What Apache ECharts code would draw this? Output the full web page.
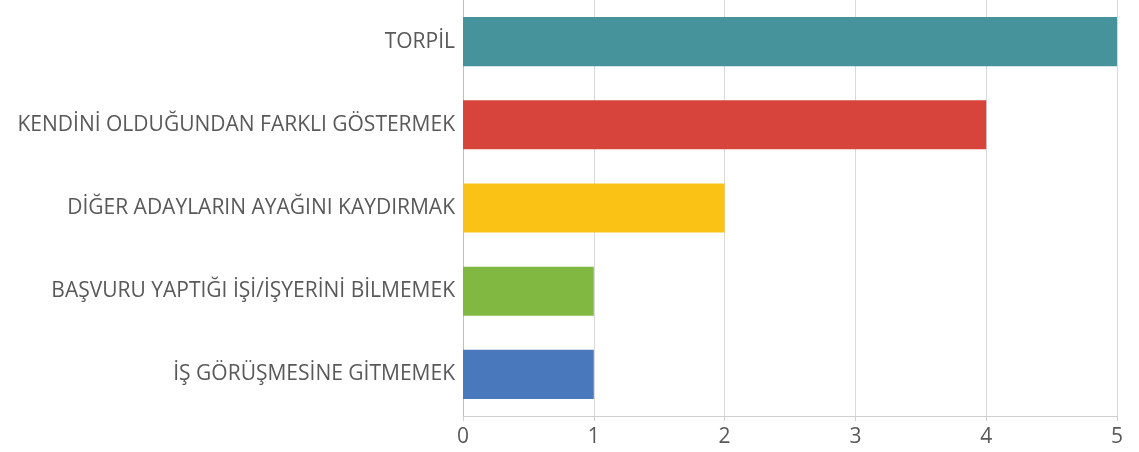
<!DOCTYPE html>
<html>
<head>
<meta charset="utf-8">
<script src="https://cdn.jsdelivr.net/npm/echarts@6/dist/echarts.min.js"></script>
<style>
html, body { margin: 0; padding: 0; background: #fff; }
#main { width: 1139px; height: 452px; }
</style>
</head>
<body>
<div id="main"></div>
<script>
// categories bottom -> top
var categories = ['İŞ GÖRÜŞMESİNE GİTMEMEK', 'BAŞVURU YAPTIĞI İŞİ/İŞYERİNİ BİLMEMEK', 'DİĞER ADAYLARIN AYAĞINI KAYDIRMAK', 'KENDİNİ OLDUĞUNDAN FARKLI GÖSTERMEK', 'TORPİL'];
var values = [1, 1, 2, 4, 5];
var barColors = ['#4a78bd', '#80b842', '#fbc216', '#d6443c', '#46939b'];
var xTicks = [0, 1, 2, 3, 4, 5];

var myChart = echarts.init(document.getElementById('main'));
var option = {
    animation: false,
    grid: {
        left: 463,
        right: 22,
        top: 0,
        bottom: 36
    },
    xAxis: {
        type: 'value',
        min: xTicks[0],
        max: xTicks[xTicks.length - 1],
        interval: 1,
        axisLine: { show: true, lineStyle: { color: '#d0d0d0' } },
        axisTick: { show: true, length: 5, lineStyle: { color: '#d0d0d0' } },
        splitLine: { show: true, lineStyle: { color: '#d9d9d9' } },
        axisLabel: { color: '#595959', fontSize: 21, fontFamily: 'Open Sans', margin: 11 }
    },
    yAxis: {
        type: 'category',
        data: categories,
        axisLine: { show: true, lineStyle: { color: '#bfbfbf' } },
        axisTick: { show: false },
        axisLabel: { color: '#595959', fontSize: 21, fontFamily: 'Open Sans', margin: 8 }
    },
    series: [{
        type: 'bar',
        barWidth: '59%',
        data: values.map(function (v, i) {
            return { value: v, itemStyle: { color: barColors[i] } };
        })
    }]
};
myChart.setOption(option);
</script>
</body>
</html>
